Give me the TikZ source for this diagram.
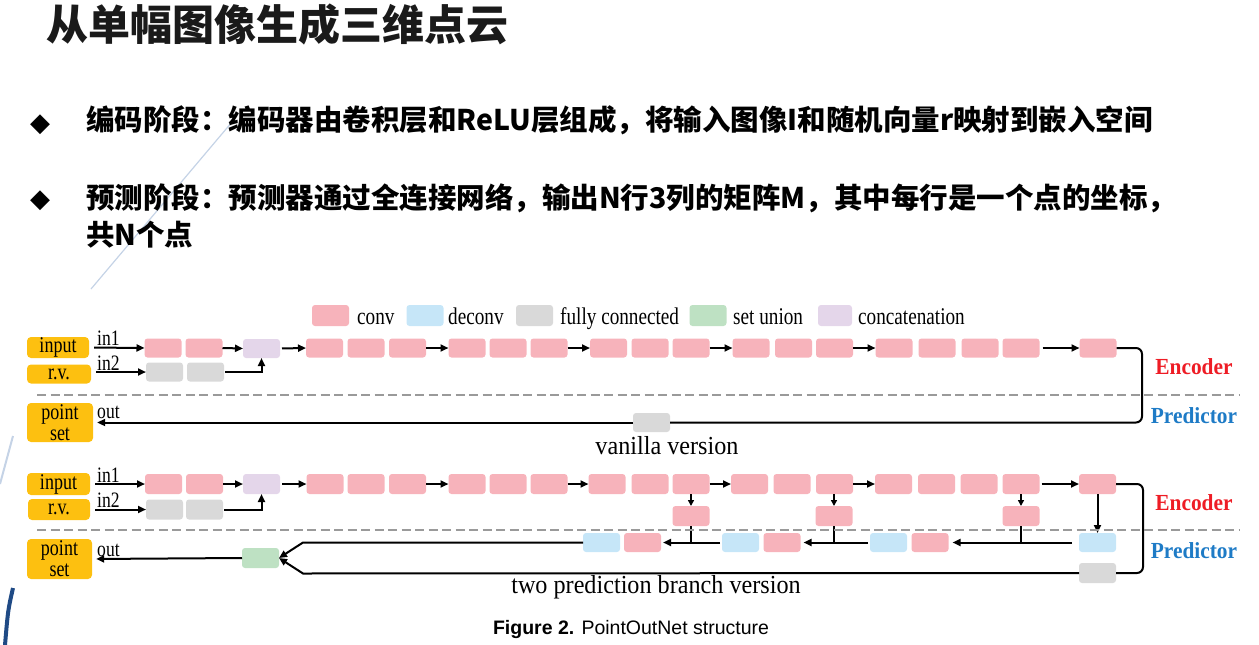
\documentclass[tikz,border=0pt]{standalone}
\usepackage{fontspec}
\usetikzlibrary{arrows.meta}
\newfontfamily\cjk{Noto Sans CJK SC}
\newfontfamily\dg[FakeStretch=0.8]{Liberation Serif}
\newfontfamily\dgw[FakeStretch=0.93]{Liberation Serif}
\newfontfamily\capf{Liberation Sans}
\newfontfamily\symf{DejaVu Sans}
\definecolor{cpink}{HTML}{F7B3BB}
\definecolor{cblue}{HTML}{C6E6F8}
\definecolor{cgray}{HTML}{D9D9D9}
\definecolor{cgreen}{HTML}{BEE1C3}
\definecolor{clav}{HTML}{E4D6EA}
\definecolor{cyel}{HTML}{FDC010}
\definecolor{encred}{HTML}{EE1C25}
\definecolor{predblue}{HTML}{1E7BC6}
\definecolor{dashgray}{HTML}{9A9A9A}
\definecolor{decolight}{HTML}{C5D3E6}
\definecolor{decodark}{HTML}{1F4A85}
\definecolor{titlecol}{HTML}{1A1A1A}
\begin{document}
\begin{tikzpicture}[x=1pt,y=-1pt,
 blk/.style={rounded corners=3pt, minimum width=37pt, minimum height=19pt, inner sep=0pt, outer sep=0pt},
 cv/.style={blk, fill=cpink},
 dcv/.style={blk, fill=cblue},
 fcb/.style={blk, fill=cgray},
 uni/.style={blk, fill=cgreen},
 cat/.style={blk, fill=clav},
 tall/.style={minimum height=20pt},
 lab/.style={fill=cyel, rounded corners=4pt, inner sep=0pt, align=center, font=\dg\fontsize{22.5}{21}\selectfont},
 ln/.style={line width=2pt, draw=black},
 arr/.style={ln, -{Triangle[length=8pt,width=7pt]}},
 sarr/.style={line width=1.6pt, draw=black, -{Triangle[length=6pt,width=6pt]}},
 dsh/.style={draw=dashgray, line width=2pt, dash pattern=on 9pt off 4.5pt},
 lgd/.style={anchor=base west, inner sep=0pt, font=\dg\fontsize{24}{28}\selectfont},
 io/.style={anchor=base west, inner sep=0pt, font=\dg\fontsize{22}{26}\selectfont},
 enc/.style={font=\dgw\bfseries\fontsize{23}{26}\selectfont, text=encred, inner sep=0pt},
 prd/.style={font=\dgw\bfseries\fontsize{23}{26}\selectfont, text=predblue, inner sep=0pt},
 ver/.style={anchor=base, inner sep=0pt, font=\dgw\fontsize{26}{30}\selectfont},
 bul/.style={anchor=base west, inner sep=0pt, font=\cjk\bfseries\fontsize{28.5}{34}\selectfont},
 bsym/.style={inner sep=0pt, font=\symf\fontsize{26}{28}\selectfont},
]
\useasboundingbox (0,0) rectangle (1259,645);
% decorative strokes
\draw[decolight, line width=1.2pt] (232,122) -- (91,289);
\draw[decolight, line width=2pt] (13,436) -- (0,484);
\draw[decodark, line width=4pt] (13,588) .. controls (8,610) .. (5,645);

% title and bullets
\node[anchor=base west, inner sep=0pt, text=titlecol, font=\cjk\bfseries\fontsize{42}{48}\selectfont] (title) at (46,40) {从单幅图像生成三维点云};
\node[bsym] (bu1) at (40,125) {◆};
\node[bsym] (bu2) at (40,201) {◆};
\node[bul] (t1) at (86,130) {编码阶段：编码器由卷积层和ReLU层组成，将输入图像I和随机向量r映射到嵌入空间};
\node[bul] (t2) at (86,208) {预测阶段：预测器通过全连接网络，输出N行3列的矩阵M，其中每行是一个点的坐标，};
\node[bul] (t3) at (86,245) {共N个点};

% legend
\node[cv, minimum height=21pt] (lg1) at (330.5,315.5) {};
\node[lgd] (lt1) at (357,324) {conv};
\node[dcv, minimum height=21pt] (lg2) at (425,315.5) {};
\node[lgd] (lt2) at (448,324) {deconv};
\node[fcb, minimum height=21pt] (lg3) at (534.5,315.5) {};
\node[lgd] (lt3) at (560,324) {fully connected};
\node[uni, minimum height=21pt] (lg4) at (708,315.5) {};
\node[lgd] (lt4) at (733,324) {set union};
\node[cat, minimum height=21pt, minimum width=34pt] (lg5) at (835,315.5) {};
\node[lgd] (lt5) at (858,324) {concatenation};

% ================= vanilla version =================
\node[lab, minimum width=62pt, minimum height=21pt] (vin) at (58,347.5) {input};
\node[lab, minimum width=64pt, minimum height=19pt] (vrv) at (59,374) {r.v.};
\node[lab, minimum width=66pt, minimum height=39pt] (vps) at (60,422.5) {point\\set};

\foreach \n/\x in {1/163,2/204,3/324.5,4/366,5/407.5,6/467,7/508,8/549,9/608.5,10/650,11/691,12/751,13/793.5,14/834.5,15/894,16/937,17/980,18/1021,19/1098}
  \node[cv] (va\n) at (\x,348) {};
\node[cat] (vcat) at (261.5,348.5) {};
\node[fcb] (vg1) at (164.5,372) {};
\node[fcb] (vg2) at (205.5,372) {};
\node[fcb] (vf) at (651.5,422.5) {};

\draw[arr, shorten <=5pt] (vin.east) -- (va1.west);
\draw[arr, shorten <=5pt] (vrv.east |- vg1.west) -- (vg1.west);
\node[io] (vl1) at (97,345) {in1};
\node[io] (vl2) at (97,370) {in2};
\node[io] (vl3) at (97,418) {out};
\draw[arr] (va2.east) -- (vcat.west);
\draw[arr, shorten <=2pt] (vcat.east) -- (va3.west);
\draw[arr, shorten <=1pt] (vg2.east) -| (vcat.south);
\draw[arr] (va5.east) -- (va6.west);
\draw[arr] (va8.east) -- (va9.west);
\draw[arr] (va11.east) -- (va12.west);
\draw[arr] (va14.east) -- (va15.west);
\draw[arr, shorten <=3pt] (va18.east) -- (va19.west);
\coordinate (vcr) at (1142,422.5);
\draw[ln, rounded corners=6pt] (va19.east) -| (vcr) -- (vf.east);
\draw[arr, shorten >=4pt] (vf.west) -- (vps.east);

\draw[dsh] (37,395) -- (1240,395);
\node[enc] (venc) at (1194,367) {Encoder};
\node[prd] (vprd) at (1194,416) {Predictor};
\node[ver] (vcap) at (667,454) {vanilla version};

% ================= two prediction branch version =================
\node[lab, minimum width=63pt, minimum height=22pt] (bin) at (58.5,484) {input};
\node[lab, minimum width=62pt, minimum height=21pt] (brv) at (59,509.5) {r.v.};
\node[lab, minimum width=65pt, minimum height=40pt] (bps) at (59.5,559) {point\\set};

\foreach \n/\x in {1/163.5,2/204.5,3/325,4/366,5/407.5,6/467,7/508,8/549,9/607,10/650,11/691,12/749.5,13/792,14/834.5,15/893.5,16/936.5,17/979,18/1021,19/1097.5}
  \node[cv, tall] (ba\n) at (\x,484) {};
\node[cat, tall] (bcat) at (261.5,484) {};
\node[fcb, tall] (bg1) at (164.5,509.5) {};
\node[fcb, tall] (bg2) at (204.5,509.5) {};

\draw[arr, shorten <=5pt] (bin.east) -- (ba1.west);
\draw[arr, shorten <=5pt] (brv.east |- bg1.west) -- (bg1.west);
\node[io] (bl1) at (97,482) {in1};
\node[io] (bl2) at (97,507) {in2};
\node[io] (bl3) at (97,556) {out};
\draw[arr] (ba2.east) -- (bcat.west);
\draw[arr, shorten <=2pt] (bcat.east) -- (ba3.west);
\draw[arr, shorten <=1pt] (bg2.east) -| (bcat.south);
\draw[arr] (ba5.east) -- (ba6.west);
\draw[arr] (ba8.east) -- (ba9.west);
\draw[arr] (ba11.east) -- (ba12.west);
\draw[arr] (ba14.east) -- (ba15.west);
\draw[arr, shorten <=2pt] (ba18.east) -- (ba19.west);

% side branches
\node[cv, tall] (s1) at (691,516) {};
\node[cv, tall] (s2) at (834,516) {};
\node[cv, tall] (s3) at (1021,516) {};
\draw[sarr] (ba11.south) -- (s1.north);
\draw[sarr] (ba14.south -| s2.north) -- (s2.north);
\draw[sarr] (ba18.south) -- (s3.north);

% predictor branch (deconv)
\node[dcv] (d1) at (601.5,542.5) {};
\node[cv] (r1) at (642.5,542.5) {};
\node[dcv] (d2) at (740.5,542.5) {};
\node[cv] (r2) at (782,542.5) {};
\node[dcv] (d3) at (888.5,542.5) {};
\node[cv] (r3) at (930,542.5) {};
\node[dcv] (d4) at (1097.5,542.5) {};
\node[fcb, tall] (bf) at (1097.5,573) {};
\node[uni, tall] (un) at (260.5,558) {};

\draw[arr] (ba19.south) -- (d4.north);
\draw[arr, shorten <=7pt, shorten >=4pt] (d4.west) -- (r3.east);
\draw[ln] (s3.south) -- (s3.south |- d4.west);
\draw[arr, shorten <=2pt, shorten >=3pt] (d3.west) -- (r2.east);
\draw[ln] (s2.south) -- (s2.south |- d3.west);
\draw[arr, shorten <=2pt, shorten >=2pt] (d2.west) -- (r1.east);
\draw[ln] (s1.south) -- (s1.south |- d2.west);
\coordinate (bj1) at (303,542.5);
\coordinate (bj2) at (303,573.5);
\coordinate (bcr) at (1143,573);
\draw[arr] (d1.west) -- (bj1) -- (un.east);
\draw[ln, rounded corners=6pt] (ba19.east) -| (bcr) -- (bf.east);
\draw[arr] (bf.west) -- (bj2) -- (un.east);
\draw[arr, shorten >=4pt] (un.west) -- (bps.east);

\draw[dsh] (37,530) -- (1240,530);
\node[enc] (benc) at (1194,503) {Encoder};
\node[prd] (bprd) at (1194,551) {Predictor};
\node[ver] (bcap) at (656,593) {two prediction branch version};

\node[anchor=base, inner sep=0pt, font=\capf\fontsize{19.5}{22}\selectfont] (fig) at (631,634) {\textbf{Figure 2.} PointOutNet structure};
\end{tikzpicture}
\end{document}
